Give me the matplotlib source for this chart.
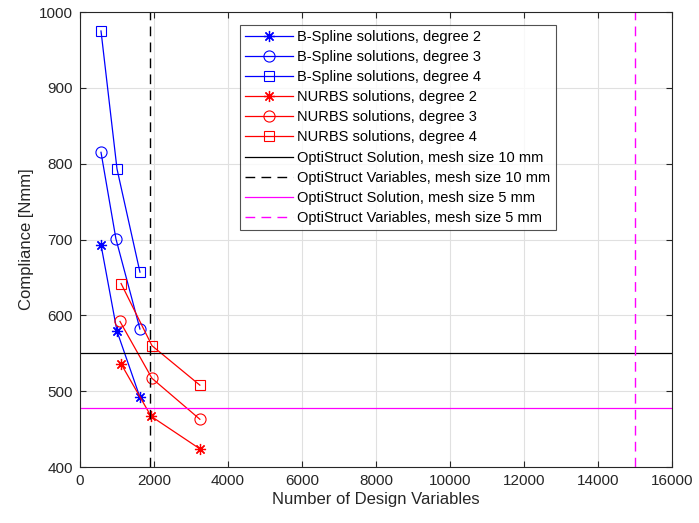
import matplotlib
matplotlib.use("Agg")
import matplotlib.pyplot as plt

plt.rcParams['font.family'] = ['Liberation Sans', 'DejaVu Sans']

bs2_x = [567, 1000, 1620]
bs2_y = [693, 579, 492]
bs3_x = [567, 970, 1620]
bs3_y = [815, 701, 582]
bs4_x = [567, 1000, 1620]
bs4_y = [975, 793, 657]
nu2_x = [1110, 1920, 3240]
nu2_y = [536, 467, 424]
nu3_x = [1080, 1945, 3240]
nu3_y = [592, 517, 463]
nu4_x = [1110, 1945, 3240]
nu4_y = [642, 560, 508]
opti10_sol = 550
opti10_var = 1890
opti5_sol = 478
opti5_var = 15000

fig = plt.figure(figsize=(6.99, 5.23), dpi=100)
ax = fig.add_axes([0.1145, 0.107, 0.8465, 0.870])

lw = 0.9
star = (8, 2, 0)
ax.plot(bs2_x, bs2_y, color='blue', marker=star, lw=lw, ms=8, mew=0.9, label='B-Spline solutions, degree 2')
ax.plot(bs3_x, bs3_y, color='blue', marker='o', mfc='none', lw=lw, ms=8, mew=0.8, label='B-Spline solutions, degree 3')
ax.plot(bs4_x, bs4_y, color='blue', marker='s', mfc='none', lw=lw, ms=7, mew=0.8, label='B-Spline solutions, degree 4')
ax.plot(nu2_x, nu2_y, color='red', marker=star, lw=lw, ms=8, mew=0.9, label='NURBS solutions, degree 2')
ax.plot(nu3_x, nu3_y, color='red', marker='o', mfc='none', lw=lw, ms=8, mew=0.8, label='NURBS solutions, degree 3')
ax.plot(nu4_x, nu4_y, color='red', marker='s', mfc='none', lw=lw, ms=7, mew=0.8, label='NURBS solutions, degree 4')
ax.axhline(opti10_sol, color='black', lw=0.9, label='OptiStruct Solution, mesh size 10 mm')
ax.axvline(opti10_var, color='black', lw=1.0, ls=(0, (7, 4.5)), label='OptiStruct Variables, mesh size 10 mm')
ax.axhline(opti5_sol, color='magenta', lw=0.9, label='OptiStruct Solution, mesh size 5 mm')
ax.axvline(opti5_var, color='magenta', lw=1.0, ls=(0, (7, 4.5)), label='OptiStruct Variables, mesh size 5 mm')

ax.set_xlim(0, 16000)
ax.set_ylim(400, 1000)
ax.set_xticks(range(0, 16001, 2000))
ax.set_yticks(range(400, 1001, 100))
ax.grid(True, color='#e0e0e0', lw=0.8)
ax.set_axisbelow(True)
for s in ax.spines.values():
    s.set_color('#262626')
    s.set_linewidth(0.8)
ax.tick_params(direction='in', labelsize=11, colors='#262626', length=4, pad=5)
ax.tick_params(top=True, right=True, labeltop=False, labelright=False)
ax.set_xlabel('Number of Design Variables', fontsize=12, color='#262626', labelpad=3)
ax.set_ylabel('Compliance [Nmm]', fontsize=12, color='#262626')

leg = ax.legend(loc='upper left', bbox_to_anchor=(0.27, 0.972), fontsize=10.5, frameon=True,
                fancybox=False, edgecolor='#262626', handlelength=3.3, borderpad=0.35,
                labelspacing=0.42, handletextpad=0.3, borderaxespad=0)
leg.get_frame().set_linewidth(0.8)

fig.savefig('out.png', dpi=100)
